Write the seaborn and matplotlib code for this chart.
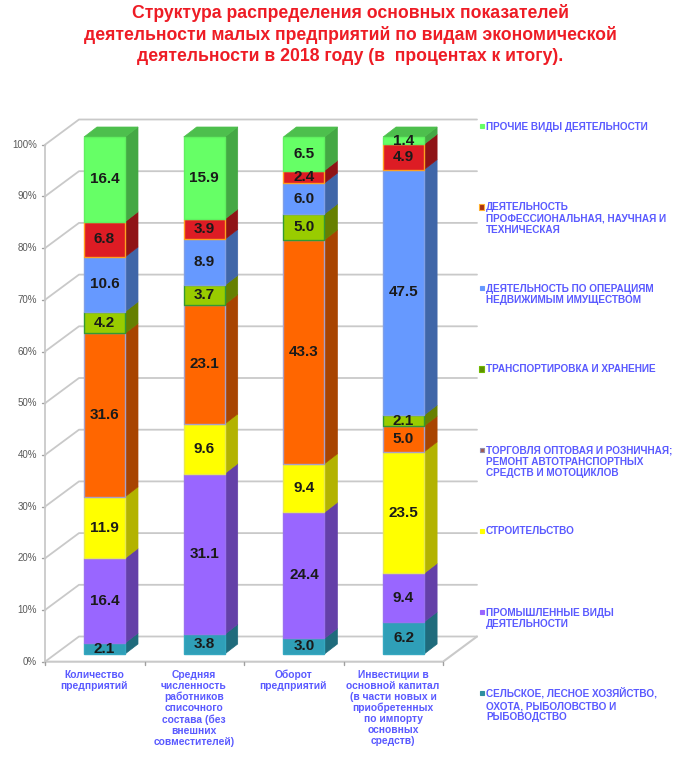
#import libraries
import numpy as np
import pandas as pd
import matplotlib
matplotlib.use('Agg')
import matplotlib.pyplot as plt
from matplotlib.patches import Polygon, Rectangle
import seaborn as sns

#data
categories = ['Количество\nпредприятий',
              'Средняя\nчисленность\nработников\nсписочного\nсостава (без\nвнешних\nсовместителей)',
              'Оборот\nпредприятий',
              'Инвестиции в\nосновной капитал\n(в части новых и\nприобретенных\nпо импорту\nосновных\nсредств)']
agriculture = [2.1, 3.8, 3.0, 6.2]
industry = [16.4, 31.1, 24.4, 9.4]
construction = [11.9, 9.6, 9.4, 23.5]
trade = [31.6, 23.1, 43.3, 5.0]
transport = [4.2, 3.7, 5.0, 2.1]
real_estate = [10.6, 8.9, 6.0, 47.5]
science = [6.8, 3.9, 2.4, 4.9]
other = [16.4, 15.9, 6.5, 1.4]
y_ticks = [0, 10, 20, 30, 40, 50, 60, 70, 80, 90, 100]

legend_labels = ['ПРОЧИЕ ВИДЫ ДЕЯТЕЛЬНОСТИ',
                 'ДЕЯТЕЛЬНОСТЬ\nПРОФЕССИОНАЛЬНАЯ, НАУЧНАЯ И\nТЕХНИЧЕСКАЯ',
                 'ДЕЯТЕЛЬНОСТЬ ПО ОПЕРАЦИЯМ\nНЕДВИЖИМЫМ ИМУЩЕСТВОМ',
                 'ТРАНСПОРТИРОВКА И ХРАНЕНИЕ',
                 'ТОРГОВЛЯ ОПТОВАЯ И РОЗНИЧНАЯ;\nРЕМОНТ АВТОТРАНСПОРТНЫХ\nСРЕДСТВ И МОТОЦИКЛОВ',
                 'СТРОИТЕЛЬСТВО',
                 'ПРОМЫШЛЕННЫЕ ВИДЫ\nДЕЯТЕЛЬНОСТИ',
                 'СЕЛЬСКОЕ, ЛЕСНОЕ ХОЗЯЙСТВО,\nОХОТА, РЫБОЛОВСТВО И\nРЫБОВОДСТВО']

title = ('Структура распределения основных показателей\n'
         'деятельности малых предприятий по видам экономической\n'
         'деятельности в 2018 году (в  процентах к итогу).')

series = [agriculture, industry, construction, trade, transport, real_estate, science, other]
# front, side, edge
styles = [('#2f9fb8', '#1f6b7c', '#35a8c0'),
          ('#9966ff', '#6440a8', '#9a70f0'),
          ('#ffff00', '#b3b300', '#e8e850'),
          ('#ff6600', '#a84400', '#a8a0c8'),
          ('#99cc00', '#668000', '#339933'),
          ('#6699ff', '#4066a8', '#7f9fe8'),
          ('#dd1c24', '#8f1316', '#ffa020'),
          ('#66ff66', '#44a844', '#60f060')]
# legend swatches, top to bottom: fill, edge, size in px
swatches = [('#66ff66', '#66ff66', 4), ('#a83010', '#ffb030', 5), ('#6699ff', '#6699ff', 4),
            ('#5f9000', '#70b800', 6), ('#a05a50', '#9090b0', 4), ('#ffff00', '#ffff00', 4),
            ('#9966ff', '#9966ff', 4), ('#2f8f9f', '#2f8f9f', 4)]

W, H = 690, 758
px_x = 99.7       # pixels for one category
px_y = 5.17       # pixels for one percent
x0, y0 = 104.5, 654   # pixel of first bar centre and of the bars' zero
bar_w = 41 / px_x
dx, dy = 13 / px_x, 10 / px_y   # bar depth

blue_text = '#5a5aff'
grid_col = '#c9c9c9'

sns.set_theme(style='white')
plt.rcParams['font.family'] = ['Liberation Sans', 'DejaVu Sans']

fig = plt.figure(figsize=(W / 100, H / 100), dpi=100)
ax = fig.add_axes([0, 0, 1, 1])


def to_x(p):
    return (p - x0) / px_x


def to_y(p):
    return (y0 - p) / px_y


#walls and floor
front_x, back_x, right_x, floor_right = to_x(45), to_x(79), to_x(477), to_x(443)
front_off, back_off = to_y(661.7), to_y(636.5)
for v in y_ticks:
    ax.plot([front_x, back_x, right_x], [v + front_off, v + back_off, v + back_off],
            color=grid_col, lw=1.3, zorder=0)
    ax.plot([to_x(41.5), front_x], [v + front_off, v + front_off], color='#a0a0a0', lw=1, zorder=0)
    ax.text(to_x(37), v + front_off, f'{v}%', ha='right', va='center', fontsize=7, color='#595959')
ax.plot([front_x, front_x], [front_off, 100 + front_off], color=grid_col, lw=1.3, zorder=0)
ax.plot([front_x, floor_right, right_x], [front_off, front_off, back_off], color=grid_col, lw=1.5, zorder=0)
for i in range(5):
    xt = front_x + i * (floor_right - front_x) / 4
    ax.plot([xt, xt], [front_off, front_off - 0.6], color='#a0a0a0', lw=1, zorder=0)

#stacked bars
values = np.array(series)
values = values / values.sum(axis=0) * 100
bottoms = np.zeros(len(categories))
for k, (col, side, edge) in enumerate(styles):
    df = pd.DataFrame({'category': categories, 'share': values[k]})
    sns.barplot(data=df, x='category', y='share', bottom=bottoms, color=col, saturation=1,
                width=bar_w, edgecolor=edge, linewidth=1, ax=ax, zorder=2)
    tops = bottoms + values[k]
    for i in range(len(categories)):
        xr = i + bar_w / 2
        ax.add_patch(Polygon([(xr, bottoms[i]), (xr + dx, bottoms[i] + dy),
                              (xr + dx, tops[i] + dy), (xr, tops[i])],
                             facecolor=side, edgecolor=side, lw=0.5, zorder=1))
        ax.text(i, bottoms[i] + values[k][i] / 2, f'{series[k][i]:.1f}', ha='center', va='center',
                fontsize=11, color='#1a1a1a', weight='bold', zorder=3)
    bottoms = tops

# top of the columns
for i in range(len(categories)):
    xl, xr = i - bar_w / 2, i + bar_w / 2
    ax.add_patch(Polygon([(xl, 100), (xr, 100), (xr + dx, 100 + dy), (xl + dx, 100 + dy)],
                         facecolor='#4dbf4d', edgecolor='#4dbf4d', lw=0.5, zorder=1))

#category labels
for i, name in enumerate(categories):
    ax.text(i - 0.105, to_y(669.5), name, ha='center', va='top', fontsize=7.4, color=blue_text,
            linespacing=1.13, weight='bold')

ax.set_xlim(to_x(0), to_x(W))
ax.set_ylim(to_y(H), to_y(0))
ax.axis('off')

#legend
for i, (label, (fill, edge, size)) in enumerate(zip(legend_labels, swatches)):
    yp = 126 + i * 81
    fig.add_artist(Rectangle((481.5 / W - size / 2 / W, 1 - (yp + size / 2) / H), size / W, size / H,
                             transform=fig.transFigure, facecolor=fill, edgecolor=edge, lw=0.8))
    fig.text(486 / W, 1 - (yp - 4.5) / H, label, ha='left', va='top', fontsize=7.2, color=blue_text,
             linespacing=1.15, weight='bold')

fig.text(350 / W, 1 - 4 / H, title, ha='center', va='top', fontsize=12.7, color='#ee1c25',
         linespacing=1.31, weight='bold')

fig.savefig('out.png', dpi=100, facecolor='white')
